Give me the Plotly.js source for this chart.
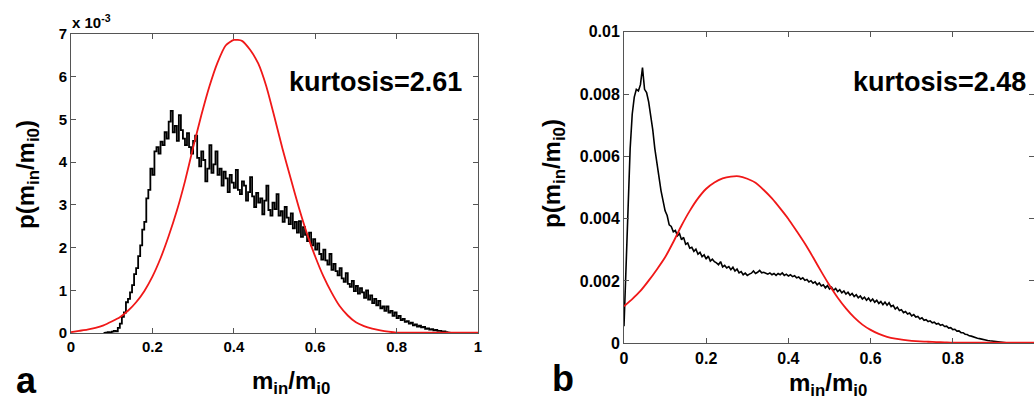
<!DOCTYPE html>
<html>
<head>
<meta charset="utf-8">
<script src="https://cdn.plot.ly/plotly-3.0.1.min.js"></script>
<style>html,body{margin:0;padding:0;background:#fff;}#chart{width:1034px;height:403px;}</style>
</head>
<body>
<div id="chart"></div>
<script>
// ---- Panel a (values in units of 1e-3) ----
const aBlackX0 = 0.08, aBlackDx = 0.005;
const aBlack = [
0.00,0.01,0.02,0.01,0.03,0.05,0.04,0.12,0.22,0.38,0.48,0.72,0.80,0.95,1.12,1.38,1.52,1.80,2.05,2.42,
2.60,3.15,3.35,3.85,3.70,4.25,4.35,4.20,4.48,4.40,4.70,4.55,4.95,5.20,4.70,4.85,4.50,5.10,4.75,4.55,
4.40,4.68,4.35,4.20,4.50,4.62,4.10,3.90,4.25,4.05,3.55,3.85,4.40,3.75,3.95,4.25,3.70,3.85,3.45,3.78,
3.62,3.30,3.70,3.52,3.40,3.82,3.35,3.25,3.55,3.45,3.10,3.30,3.65,3.20,2.95,3.28,3.05,3.15,2.78,3.10,
3.45,2.88,2.75,3.05,2.90,3.25,2.75,2.85,2.60,2.95,2.70,2.55,2.80,2.45,2.60,2.35,2.62,2.25,2.48,2.30,
2.15,2.35,2.05,2.20,1.95,2.10,1.85,1.72,1.95,1.70,1.60,1.85,1.48,1.62,1.45,1.35,1.52,1.28,1.20,1.40,
1.15,1.08,1.22,0.98,1.10,0.92,1.05,0.95,0.82,1.00,0.78,0.88,0.70,0.80,0.65,0.75,0.58,0.62,0.52,0.62,
0.48,0.52,0.40,0.48,0.35,0.40,0.30,0.33,0.26,0.28,0.22,0.24,0.18,0.20,0.15,0.17,0.13,0.14,0.10,0.11,
0.08,0.09,0.06,0.07,0.05,0.05,0.03,0.04,0.02,0.01,0.00
];
const aRedX0 = 0, aRedDx = 0.02;
const aRed = [
0.02,0.05,0.08,0.12,0.18,0.27,0.37,0.52,0.72,0.98,1.32,1.75,2.27,2.86,3.55,4.34,5.09,5.77,6.33,6.73,
6.86,6.84,6.63,6.31,5.77,5.05,4.30,3.61,2.93,2.32,1.79,1.33,0.95,0.63,0.41,0.25,0.16,0.10,0.06,0.03,
0.01,0.01,0.01,0.01,0.01,0.01,0.01,0.01,0.01,0.01,0.01
];
// ---- Panel b (values in units of 1e-3) ----
const bBlackX0 = 0, bBlackDx = 0.005;
const bBlack = [
0.55,2.40,4.70,6.25,7.35,7.90,8.15,8.10,8.30,8.85,8.15,8.05,7.75,7.35,6.85,6.25,5.70,5.35,4.90,4.60,
4.25,4.10,3.80,3.75,3.58,3.62,3.45,3.52,3.32,3.40,3.18,3.22,3.05,3.08,2.95,3.02,2.86,2.92,2.78,2.84,
2.70,2.80,2.64,2.70,2.62,2.58,2.52,2.62,2.45,2.50,2.42,2.46,2.36,2.44,2.32,2.38,2.26,2.30,2.20,2.25,
2.18,2.22,2.25,2.32,2.24,2.28,2.34,2.26,2.28,2.25,2.22,2.26,2.20,2.24,2.18,2.24,2.20,2.26,2.18,2.22,
2.16,2.20,2.14,2.17,2.10,2.13,2.06,2.10,2.02,2.05,1.97,2.01,1.93,1.97,1.88,1.94,1.84,1.88,1.78,1.85,
1.74,1.80,1.70,1.76,1.66,1.72,1.62,1.68,1.58,1.64,1.54,1.60,1.50,1.56,1.46,1.52,1.42,1.48,1.38,1.45,
1.35,1.42,1.32,1.38,1.28,1.34,1.24,1.32,1.22,1.30,1.18,1.22,1.10,1.16,1.05,1.08,0.98,1.02,0.94,0.97,
0.88,0.92,0.84,0.86,0.78,0.82,0.74,0.76,0.70,0.72,0.66,0.68,0.62,0.64,0.58,0.60,0.54,0.55,0.49,0.50,
0.44,0.45,0.39,0.40,0.34,0.34,0.29,0.28,0.24,0.23,0.20,0.19,0.16,0.15,0.13,0.12,0.10,0.09,0.08,0.07,
0.06,0.05,0.04,0.04,0.03,0.02,0.02,0.01,0.00
];
const bRedX0 = 0, bRedDx = 0.02;
const bRed = [
1.19,1.42,1.68,2.01,2.37,2.76,3.25,3.78,4.25,4.65,4.96,5.16,5.29,5.35,5.36,5.28,5.15,4.92,4.65,4.33,
3.99,3.60,3.20,2.76,2.30,1.86,1.46,1.12,0.83,0.60,0.43,0.30,0.21,0.15,0.11,0.08,0.06,0.05,0.04,0.03,
0.02,0.02,0.02,0.02,0.02,0.02,0.02,0.02,0.02,0.02,0.02
];
const bTickVals = [0, 2, 4, 6, 8, 10];
const bTickText = ['0', '0.002', '0.004', '0.006', '0.008', '0.01'];

const FONT = '"Liberation Sans", Arial, sans-serif';
const AX = '#555555';
const RED = 'rgb(240,24,24)';

function axisBase(extra) {
  return Object.assign({
    showline: true, linecolor: AX, linewidth: 1, mirror: 'ticks',
    ticks: 'inside', ticklen: 5, tickcolor: AX, tickwidth: 1,
    showgrid: false, zeroline: false,
    tickfont: {family: FONT, size: 15, color: '#000', weight: 'bold'}
  }, extra);
}

const traces = [
  {x0: aBlackX0, dx: aBlackDx, y: aBlack, type: 'scatter', mode: 'lines', line: {color: '#000', width: 1.8, shape: 'hv'}, xaxis: 'x', yaxis: 'y', hoverinfo: 'skip'},
  {x0: aRedX0, dx: aRedDx, y: aRed, type: 'scatter', mode: 'lines', line: {color: RED, width: 1.8, shape: 'spline', smoothing: 0.6}, xaxis: 'x', yaxis: 'y', hoverinfo: 'skip'},
  {x0: bBlackX0, dx: bBlackDx, y: bBlack, type: 'scatter', mode: 'lines', line: {color: '#000', width: 1.6, shape: 'linear'}, xaxis: 'x2', yaxis: 'y2', hoverinfo: 'skip'},
  {x0: bRedX0, dx: bRedDx, y: bRed, type: 'scatter', mode: 'lines', line: {color: RED, width: 1.8, shape: 'spline', smoothing: 0.6}, xaxis: 'x2', yaxis: 'y2', hoverinfo: 'skip'}
];

function px(x) { return x / 1034; }
function py(y) { return 1 - y / 403; }

const titleFont = {family: FONT, size: 24, color: '#000', weight: 'bold'};
const layout = {
  width: 1034, height: 403, autosize: false,
  margin: {l: 0, r: 0, t: 0, b: 0, pad: 0},
  paper_bgcolor: '#fff', plot_bgcolor: '#fff',
  showlegend: false,
  xaxis: axisBase({domain: [px(71), px(478)], range: [0, 1], tickvals: [0, 0.2, 0.4, 0.6, 0.8, 1], anchor: 'y'}),
  yaxis: axisBase({domain: [py(333), py(34)], range: [0, 7], dtick: 1, tick0: 0, anchor: 'x'}),
  xaxis2: axisBase({domain: [px(624), 1], range: [0, 410 / 411], tickvals: [0, 0.2, 0.4, 0.6, 0.8], anchor: 'y2',
    tickfont: {family: FONT, size: 16, color: '#000', weight: 'bold'}}),
  yaxis2: axisBase({domain: [py(343.3), py(31.7)], range: [0, 10], tickvals: bTickVals, ticktext: bTickText, anchor: 'x2',
    tickfont: {family: FONT, size: 16, color: '#000', weight: 'bold'}}),
  annotations: [
    {xref: 'paper', yref: 'paper', x: px(70), y: py(22), xanchor: 'left', yanchor: 'middle', showarrow: false,
      text: 'x 10<sup>-3</sup>', font: {family: FONT, size: 15, color: '#000', weight: 'bold'}},
    {xref: 'paper', yref: 'paper', x: px(375), y: py(82), xanchor: 'center', yanchor: 'middle', showarrow: false,
      text: 'kurtosis=2.61', font: {family: FONT, size: 27, color: '#000', weight: 'bold'}},
    {xref: 'paper', yref: 'paper', x: px(939), y: py(82), xanchor: 'center', yanchor: 'middle', showarrow: false,
      text: 'kurtosis=2.48', font: {family: FONT, size: 27, color: '#000', weight: 'bold'}},
    {xref: 'paper', yref: 'paper', x: px(291), y: py(382), xanchor: 'center', yanchor: 'middle', showarrow: false,
      text: 'm<sub>in</sub>/m<sub>i0</sub>', font: titleFont},
    {xref: 'paper', yref: 'paper', x: px(828), y: py(384), xanchor: 'center', yanchor: 'middle', showarrow: false,
      text: 'm<sub>in</sub>/m<sub>i0</sub>', font: titleFont},
    {xref: 'paper', yref: 'paper', x: px(27), y: py(175), xanchor: 'center', yanchor: 'middle', showarrow: false, textangle: -90,
      text: 'p(m<sub>in</sub>/m<sub>i0</sub>)', font: titleFont},
    {xref: 'paper', yref: 'paper', x: px(553), y: py(174), xanchor: 'center', yanchor: 'middle', showarrow: false, textangle: -90,
      text: 'p(m<sub>in</sub>/m<sub>i0</sub>)', font: titleFont},
    {xref: 'paper', yref: 'paper', x: px(26), y: py(380), xanchor: 'center', yanchor: 'middle', showarrow: false,
      text: 'a', font: {family: FONT, size: 36, color: '#000', weight: 'bold'}},
    {xref: 'paper', yref: 'paper', x: px(563), y: py(378), xanchor: 'center', yanchor: 'middle', showarrow: false,
      text: 'b', font: {family: FONT, size: 36, color: '#000', weight: 'bold'}}
  ]
};

Plotly.newPlot('chart', traces, layout, {displayModeBar: false, staticPlot: true});
</script>
</body>
</html>
